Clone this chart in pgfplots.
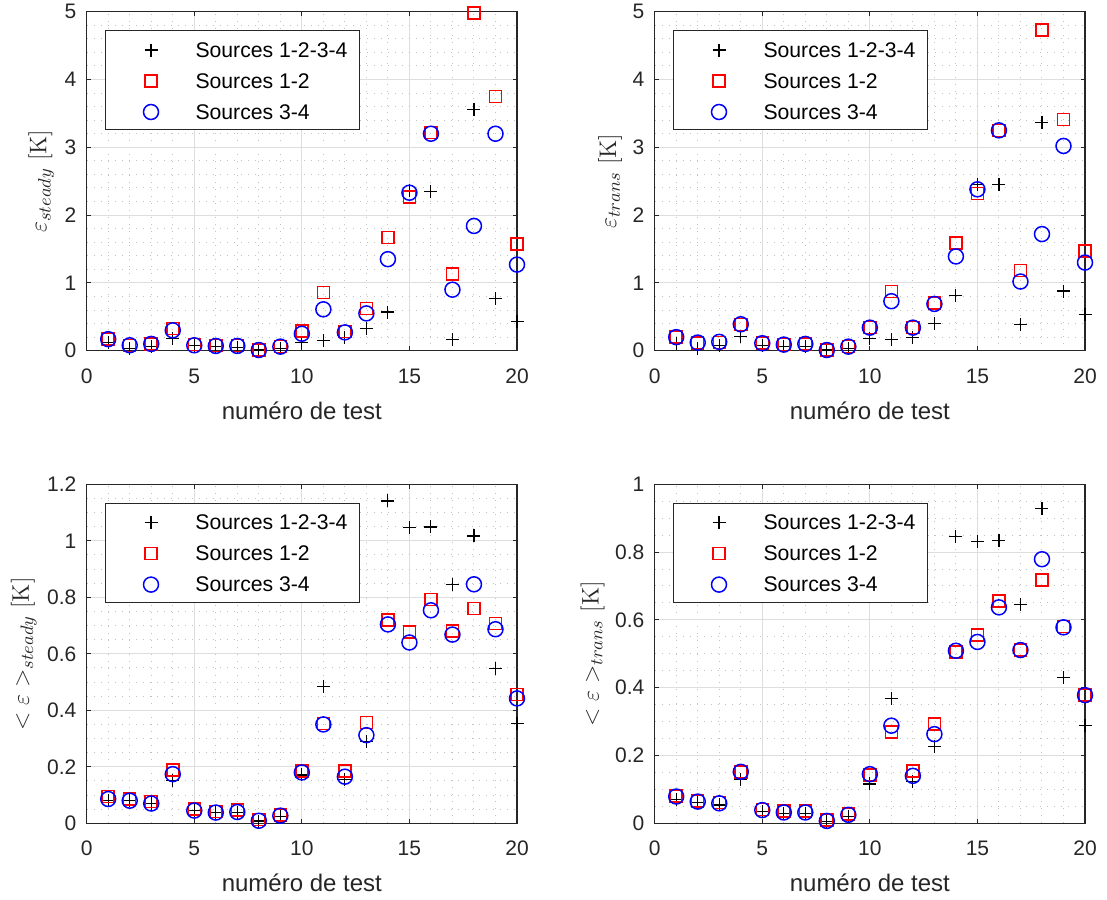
\documentclass[border=0pt]{standalone}
\usepackage[no-math]{fontspec}
\setmainfont{Liberation Sans}
\usepackage{pgfplots}
\pgfplotsset{compat=1.18}
\usepackage{pgfplotstable}

\definecolor{axgray}{rgb}{0.15,0.15,0.15}
\definecolor{gridmaj}{gray}{0.87}
\definecolor{gridmin}{gray}{0.76}

\pgfplotstableread{
x p a b
1 0.12 0.17 0.17
2 0.03 0.08 0.08
3 0.06 0.10 0.10
4 0.18 0.33 0.30
5 0.07 0.09 0.08
6 0.06 0.08 0.07
7 0.05 0.08 0.07
8 0.01 0.01 0.01
9 0.03 0.06 0.06
10 0.12 0.29 0.25
11 0.15 0.86 0.61
12 0.20 0.28 0.27
13 0.33 0.62 0.55
14 0.57 1.67 1.35
15 2.36 2.27 2.33
16 2.35 3.22 3.20
17 0.16 1.13 0.90
18 3.56 4.98 1.84
19 0.77 3.75 3.20
20 0.43 1.57 1.27
}\dataSteady

\pgfplotstableread{
x p a b
1 0.11 0.20 0.20
2 0.03 0.11 0.12
3 0.07 0.12 0.13
4 0.21 0.39 0.39
5 0.08 0.11 0.11
6 0.06 0.09 0.09
7 0.06 0.10 0.10
8 0.01 0.01 0.01
9 0.03 0.06 0.06
10 0.18 0.34 0.34
11 0.16 0.87 0.73
12 0.20 0.34 0.34
13 0.40 0.70 0.69
14 0.82 1.59 1.39
15 2.45 2.32 2.38
16 2.45 3.25 3.25
17 0.38 1.18 1.02
18 3.36 4.73 1.72
19 0.88 3.41 3.02
20 0.54 1.47 1.30
}\dataTrans

\pgfplotstableread{
x p a b
1 0.080 0.094 0.086
2 0.080 0.086 0.080
3 0.070 0.077 0.070
4 0.153 0.189 0.174
5 0.045 0.050 0.045
6 0.039 0.041 0.038
7 0.039 0.047 0.040
8 0.008 0.014 0.009
9 0.024 0.029 0.027
10 0.171 0.185 0.180
11 0.483 0.354 0.350
12 0.156 0.186 0.165
13 0.289 0.356 0.312
14 1.141 0.719 0.704
15 1.046 0.678 0.640
16 1.049 0.793 0.754
17 0.846 0.680 0.668
18 1.017 0.760 0.846
19 0.548 0.707 0.687
20 0.354 0.456 0.442
}\dataMeanSteady

\pgfplotstableread{
x p a b
1 0.069 0.081 0.079
2 0.061 0.066 0.064
3 0.054 0.062 0.059
4 0.128 0.152 0.152
5 0.034 0.041 0.039
6 0.030 0.036 0.032
7 0.030 0.036 0.032
8 0.005 0.010 0.007
9 0.020 0.027 0.025
10 0.116 0.142 0.145
11 0.368 0.270 0.288
12 0.123 0.155 0.140
13 0.226 0.293 0.263
14 0.845 0.506 0.509
15 0.832 0.555 0.535
16 0.835 0.656 0.637
17 0.645 0.511 0.511
18 0.928 0.717 0.779
19 0.429 0.580 0.578
20 0.288 0.378 0.378
}\dataMeanTrans

\pgfplotsset{
  mat/.style={
    scale only axis, width=215.15pt, height=169.5pt,
    xmin=0, xmax=20, xtick={0,5,10,15,20}, minor x tick num=4,
    ymin=0,
    grid=both,
    major grid style={gridmaj, line width=0.5pt},
    minor grid style={gridmin, line width=0.5pt, dash pattern=on 0.5pt off 3pt},
    axis line style={axgray, line width=0.6pt},
    tick style={axgray, line width=0.5pt},
    major tick length=2.2pt, minor tick length=0pt,
    tick align=inside, tick pos=both,
    ticklabel style={font=\fontsize{10.5}{12}\selectfont, text=axgray},
    /pgf/number format/assume math mode=true,
    xticklabel style={inner sep=0pt}, xticklabel shift=8.8pt,
    yticklabel style={inner sep=0pt}, yticklabel shift=5pt,
    xlabel={numéro de test},
    xlabel style={at={(axis description cs:0.5,0)}, anchor=base, yshift=-34.3pt, font=\fontsize{12}{14}\selectfont, text=axgray, inner sep=0pt},
    ylabel style={at={(ticklabel cs:0.5,5pt)}, anchor=south, inner sep=0pt, font=\fontsize{12.5}{14}\selectfont, text=axgray},
    clip=false,
    legend cell align=left,
    legend style={at={(axis description cs:0,1)}, anchor=north west, xshift=9.15pt, yshift=-9.15pt,
      draw=axgray, line width=0.5pt, fill=white, inner xsep=0pt, inner ysep=3pt, row sep=3pt,
      nodes={inner sep=0pt, text height=10pt, text depth=2pt, font=\fontsize{10.6}{12}\selectfont, text=black}},
    legend image code/.code={\path (0pt,-6pt) (44.5pt,6pt); \draw[##1] plot coordinates {(22.5pt,-0.5pt)};},
  },
  sA/.style={only marks, mark=+, mark size=3.25pt, draw=black, color=black, mark options={line width=0.55pt, draw=black}},
  sB/.style={only marks, mark=square, mark size=3pt, draw=red, color=red, mark options={line width=0.75pt, draw=red}},
  sC/.style={only marks, mark=o, mark size=3.75pt, draw=blue, color=blue, mark options={line width=0.75pt, draw=blue}},
}

\begin{document}
\begin{tikzpicture}
\path[use as bounding box] (0pt,0pt) rectangle (553.5pt,449.5pt);

\begin{axis}[mat, at={(43.35pt,274.15pt)}, anchor=south west,
  ymax=5, ytick={0,1,2,3,4,5}, minor y tick num=4,
  ylabel={$\varepsilon_{steady}$ $[\mathrm{K}]$}]
\addplot[sA] table[x=x,y=p] {\dataSteady};
\addlegendentry{Sources 1-2-3-4\hspace*{6pt}}
\addplot[sB] table[x=x,y=a] {\dataSteady};
\addlegendentry{Sources 1-2}
\addplot[sC] table[x=x,y=b] {\dataSteady};
\addlegendentry{Sources 3-4}
\end{axis}

\begin{axis}[mat, at={(327.35pt,274.15pt)}, anchor=south west,
  ymax=5, ytick={0,1,2,3,4,5}, minor y tick num=4,
  ylabel={$\varepsilon_{trans}$ $[\mathrm{K}]$}]
\addplot[sA] table[x=x,y=p] {\dataTrans};
\addlegendentry{Sources 1-2-3-4\hspace*{6pt}}
\addplot[sB] table[x=x,y=a] {\dataTrans};
\addlegendentry{Sources 1-2}
\addplot[sC] table[x=x,y=b] {\dataTrans};
\addlegendentry{Sources 3-4}
\end{axis}

\begin{axis}[mat, at={(43.35pt,37.85pt)}, anchor=south west,
  ymax=1.2, ytick={0,0.2,0.4,0.6,0.8,1,1.2}, minor y tick num=3,
  ylabel={$<\varepsilon>_{steady}$ $[\mathrm{K}]$}]
\addplot[sA] table[x=x,y=p] {\dataMeanSteady};
\addlegendentry{Sources 1-2-3-4\hspace*{6pt}}
\addplot[sB] table[x=x,y=a] {\dataMeanSteady};
\addlegendentry{Sources 1-2}
\addplot[sC] table[x=x,y=b] {\dataMeanSteady};
\addlegendentry{Sources 3-4}
\end{axis}

\begin{axis}[mat, at={(327.35pt,37.85pt)}, anchor=south west,
  ymax=1, ytick={0,0.2,0.4,0.6,0.8,1}, minor y tick num=3,
  ylabel={$<\varepsilon>_{trans}$ $[\mathrm{K}]$}]
\addplot[sA] table[x=x,y=p] {\dataMeanTrans};
\addlegendentry{Sources 1-2-3-4\hspace*{6pt}}
\addplot[sB] table[x=x,y=a] {\dataMeanTrans};
\addlegendentry{Sources 1-2}
\addplot[sC] table[x=x,y=b] {\dataMeanTrans};
\addlegendentry{Sources 3-4}
\end{axis}
\end{tikzpicture}
\end{document}
